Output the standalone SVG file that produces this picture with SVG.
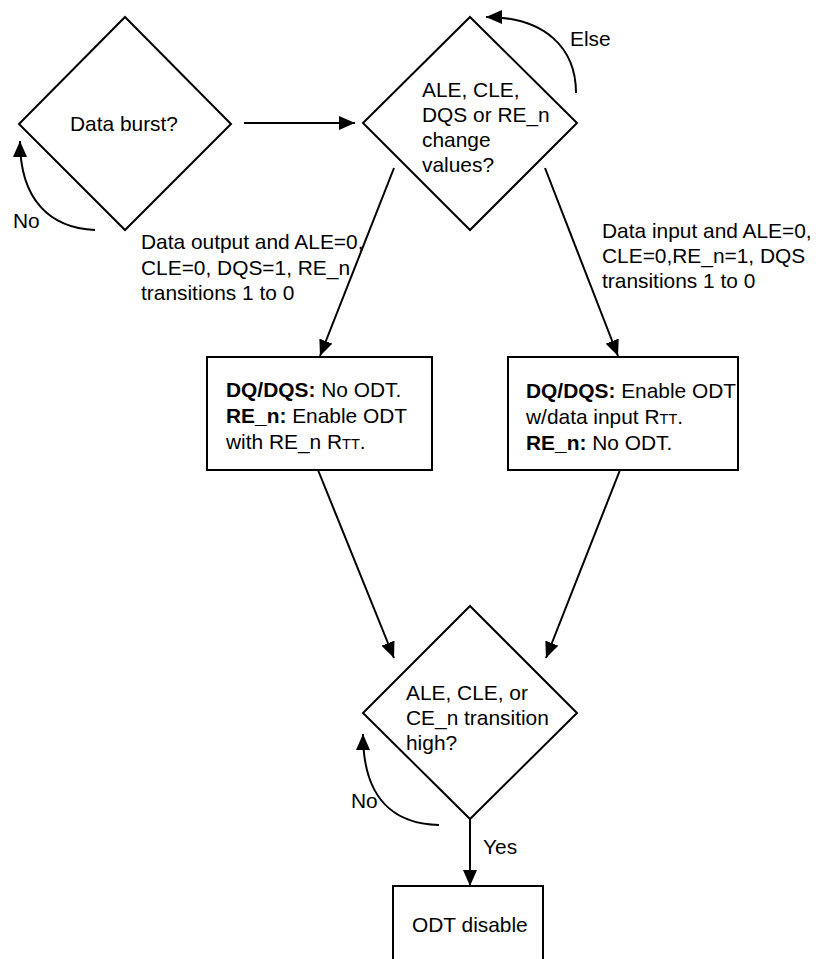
<svg xmlns="http://www.w3.org/2000/svg" width="816" height="959" viewBox="0 0 816 959">
  <style>
    .shape { fill: #fff; stroke: #000; stroke-width: 2; }
    .wire { fill: none; stroke: #000; stroke-width: 2; }
    text { font-family: "Liberation Sans", Arial, sans-serif; font-size: 20.9px; fill: #000; }
    .b { font-weight: bold; }
    .sc { font-size: 14.5px; }
  </style>
  <defs>
    <marker id="arrow" viewBox="0 0 16 14" refX="16" refY="7" markerWidth="16" markerHeight="14" markerUnits="userSpaceOnUse" orient="auto">
      <path d="M0,0 L16,7 L0,14 Z" fill="#000"/>
    </marker>
  </defs>
  <rect width="816" height="959" fill="#fff"/>

  <g id="connectors">
    <line class="wire" x1="244" y1="123" x2="355" y2="123" marker-end="url(#arrow)"/>
    <path class="wire" d="M95,230 C50,228 20,200 20,141" marker-end="url(#arrow)"/>
    <path class="wire" d="M576,93 C576,48 545,17 486,17" marker-end="url(#arrow)"/>
    <line class="wire" x1="394" y1="168" x2="320" y2="356" marker-end="url(#arrow)"/>
    <line class="wire" x1="545" y1="168" x2="618" y2="356" marker-end="url(#arrow)"/>
    <line class="wire" x1="318" y1="470" x2="394" y2="658" marker-end="url(#arrow)"/>
    <line class="wire" x1="620" y1="470" x2="546" y2="658" marker-end="url(#arrow)"/>
    <path class="wire" d="M439,825 C395,824 363,800 363,734" marker-end="url(#arrow)"/>
    <line class="wire" x1="470" y1="819" x2="470" y2="886" marker-end="url(#arrow)"/>
    <text x="13" y="228">No</text>
    <text x="570" y="46">Else</text>
    <text x="141" y="249">Data output and ALE=0,</text>
    <text x="141" y="275">CLE=0, DQS=1, RE_n</text>
    <text x="141" y="300">transitions 1 to 0</text>
    <text x="602" y="238">Data input and ALE=0,</text>
    <text x="602" y="263">CLE=0,RE_n=1, DQS</text>
    <text x="602" y="288">transitions 1 to 0</text>
    <text x="351" y="808">No</text>
    <text x="483" y="854">Yes</text>
  </g>

  <g id="data-burst">
    <polygon class="shape" points="125,17 231,124 125,230 19,124"/>
    <text x="124" y="131" text-anchor="middle">Data burst?</text>
  </g>

  <g id="signal-change">
    <polygon class="shape" points="470,17 577,123 470,230 363,123"/>
    <text x="422" y="97">ALE, CLE,</text>
    <text x="422" y="122">DQS or RE_n</text>
    <text x="422" y="147">change</text>
    <text x="422" y="172">values?</text>
  </g>

  <g id="output-odt">
    <rect class="shape" x="207" y="357" width="225" height="113"/>
    <text x="226" y="397"><tspan class="b">DQ/DQS:</tspan> No ODT.</text>
    <text x="226" y="423"><tspan class="b">RE_n:</tspan> Enable ODT</text>
    <text x="226" y="449">with RE_n R<tspan class="sc">TT</tspan>.</text>
  </g>

  <g id="input-odt">
    <rect class="shape" x="508" y="357" width="230" height="113"/>
    <text x="526" y="398"><tspan class="b">DQ/DQS:</tspan> Enable ODT</text>
    <text x="526" y="424">w/data input R<tspan class="sc">TT</tspan>.</text>
    <text x="526" y="450"><tspan class="b">RE_n:</tspan> No ODT.</text>
  </g>

  <g id="transition-high">
    <polygon class="shape" points="470,606 577,713 470,819 363,713"/>
    <text x="406" y="700">ALE, CLE, or</text>
    <text x="406" y="725">CE_n transition</text>
    <text x="406" y="750">high?</text>
  </g>

  <g id="odt-disable">
    <rect class="shape" x="393" y="886" width="150" height="90"/>
    <text x="412" y="932">ODT disable</text>
  </g>
</svg>
